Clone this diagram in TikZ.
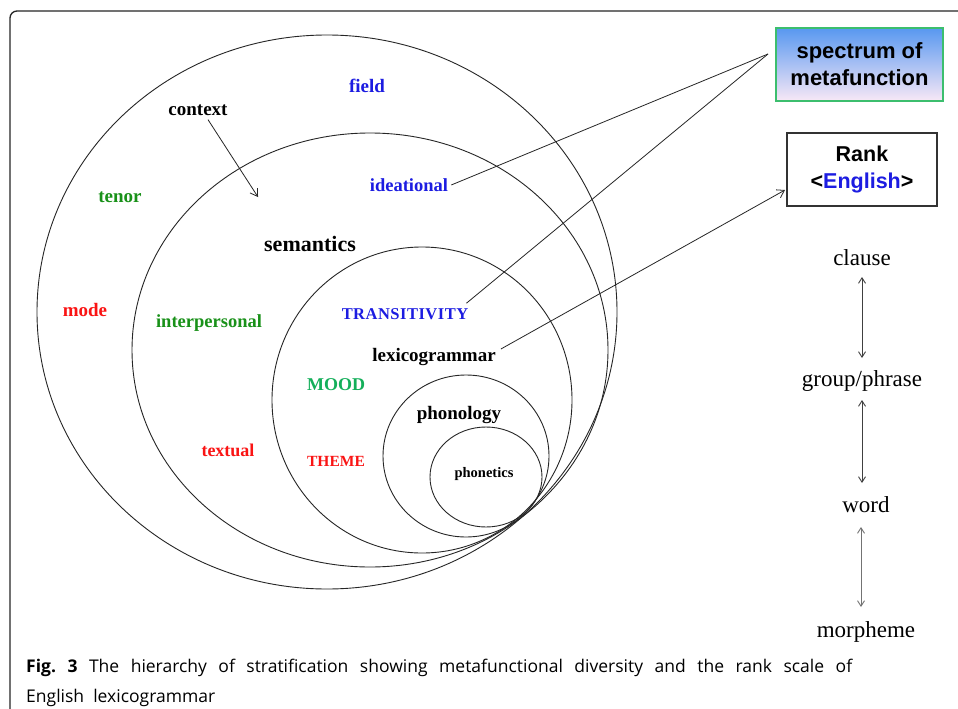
\documentclass[tikz,border=0pt]{standalone}
\usepackage{fontspec}
\setmainfont{Liberation Serif}
\newfontfamily\arialf{Liberation Sans}
\newfontfamily\capf{Open Sans}
\usetikzlibrary{shapes.geometric,arrows.meta,calc}
\definecolor{lblue}{RGB}{28,28,225}
\definecolor{lgreen}{RGB}{25,145,25}
\definecolor{mgreen}{RGB}{20,175,90}
\definecolor{lred}{RGB}{250,20,20}
\definecolor{boxtop}{RGB}{88,152,240}
\definecolor{boxbot}{RGB}{248,232,246}
\definecolor{boxedge}{RGB}{60,190,110}
\begin{document}
\begin{tikzpicture}[x=1pt,y=-1pt,
  ring/.style 2 args={ellipse,draw=black!85,line width=0.9pt,inner sep=0pt,minimum width=#1,minimum height=#2},
  lbl/.style={font={\fontsize{#1}{#1}\selectfont\bfseries},inner sep=1pt},
  conn/.style={draw=black!85,line width=0.8pt},
  barb/.style={conn,-{Straight Barb[length=7pt,width=9pt]}},
  dbl/.style={draw=black!75,line width=0.9pt,{Straight Barb[length=5.5pt,width=7pt]}-{Straight Barb[length=5.5pt,width=7pt]}},
  rs/.style={font={\fontsize{23}{23}\selectfont},inner sep=0pt,anchor=base},
  specbox/.style={draw=boxedge,line width=1.3pt,top color=boxtop,bottom color=boxbot,
    minimum width=167pt,minimum height=73pt,align=center,inner sep=0pt,
    font={\arialf\bfseries\fontsize{22}{27}\selectfont}},
  rankbox/.style={draw=black!80,line width=1.2pt,fill=white,
    minimum width=150pt,minimum height=73pt,align=center,inner sep=0pt,
    font={\arialf\bfseries\fontsize{21.5}{27}\selectfont}},
  frame/.style={draw=black!85,line width=1.3pt,rounded corners=7pt}]
\useasboundingbox (0,0) rectangle (958,709);
\begin{scope}
\clip (0,0) rectangle (958,709);
\fill[white] (0,0) rectangle (958,709);
\draw[frame] (10,11) rectangle (990,718);
\end{scope}

% strata
\node[ring={580}{554}] (ctxE) at (327,312) {};
\node[ring={476}{434}] (semE) at (370,350) {};
\node[ring={300}{306}] (lexE) at (422,400) {};
\node[ring={166}{162}] (phonolE) at (466,456) {};
\node[ring={112}{100}] (phonetE) at (486,477) {};

% labels
\node[lbl=19,text=lblue] (field) at (367,86) {field};
\node[lbl=19] (context) at (198,110) {context};
\node[lbl=19,text=lgreen] (tenor) at (120,197) {tenor};
\node[lbl=18.5,text=lblue] (ideat) at (409,185) {ideational};
\node[lbl=22] (sem) at (310,244) {semantics};
\node[lbl=19,text=lred] (mode) at (85,310) {mode};
\node[lbl=18.5,text=lgreen] (interp) at (209,323) {interpersonal};
\node[lbl=16.5,text=lblue] (trans) at (405,314) {\addfontfeature{LetterSpace=3}TRANSITIVITY};
\node[lbl=19] (lex) at (434,357) {lexicogrammar};
\node[lbl=18,text=mgreen] (mood) at (336,385) {MOOD};
\node[lbl=19] (phonol) at (459,415) {phonology};
\node[lbl=18,text=lred] (textual) at (228,450) {textual};
\node[lbl=15.5,text=lred] (theme) at (336,461) {THEME};
\node[lbl=14.5] (phonet) at (484,474) {phonetics};

% boxes
\node[specbox] (spec) at (859.5,64.5) {spectrum of\\metafunction};
\node[rankbox] (rank) at (862,169.5) {Rank\\<\textcolor{lblue}{English}>};

% connectors
\coordinate (ctxend) at (258,197);
\draw[barb] ($(context.south)+(10,3)$) -- (ctxend);
\coordinate (sp) at (768,54);
\draw[conn] ($(ideat.east)+(2,0)$) -- (sp);
\draw[conn] ($(trans.north east)+(-3,-4)$) -- (sp);
\coordinate (rk) at (785,190);
\draw[barb] ($(lex.east)+(4,-8)$) -- (rk);

% rank scale
\node[rs] (clause) at (862,265) {clause};
\node[rs] (group) at (862,386) {group/phrase};
\node[rs] (word) at (866,512) {word};
\node[rs] (morph) at (866,637) {morpheme};
\draw[dbl] ($(clause.base)+(0,12)$) -- ($(group.base)+(0,-28)$);
\draw[dbl] ($(group.base)+(0,14)$) -- ($(group.base)+(0,97)$);
\draw[dbl, draw=black!55] ($(word.base)+(-5,15)$) -- ($(morph.base)+(-5,-30)$);

% caption
\node[anchor=base west,text width=826pt,align=justify,inner sep=0pt,
  font={\capf\fontsize{17.5}{30}\selectfont}] (cap) at (26,672)
  {\textbf{Fig.~3} The hierarchy of stratification showing metafunctional diversity and the rank scale of\linebreak English\ \ lexicogrammar};
\end{tikzpicture}
\end{document}
